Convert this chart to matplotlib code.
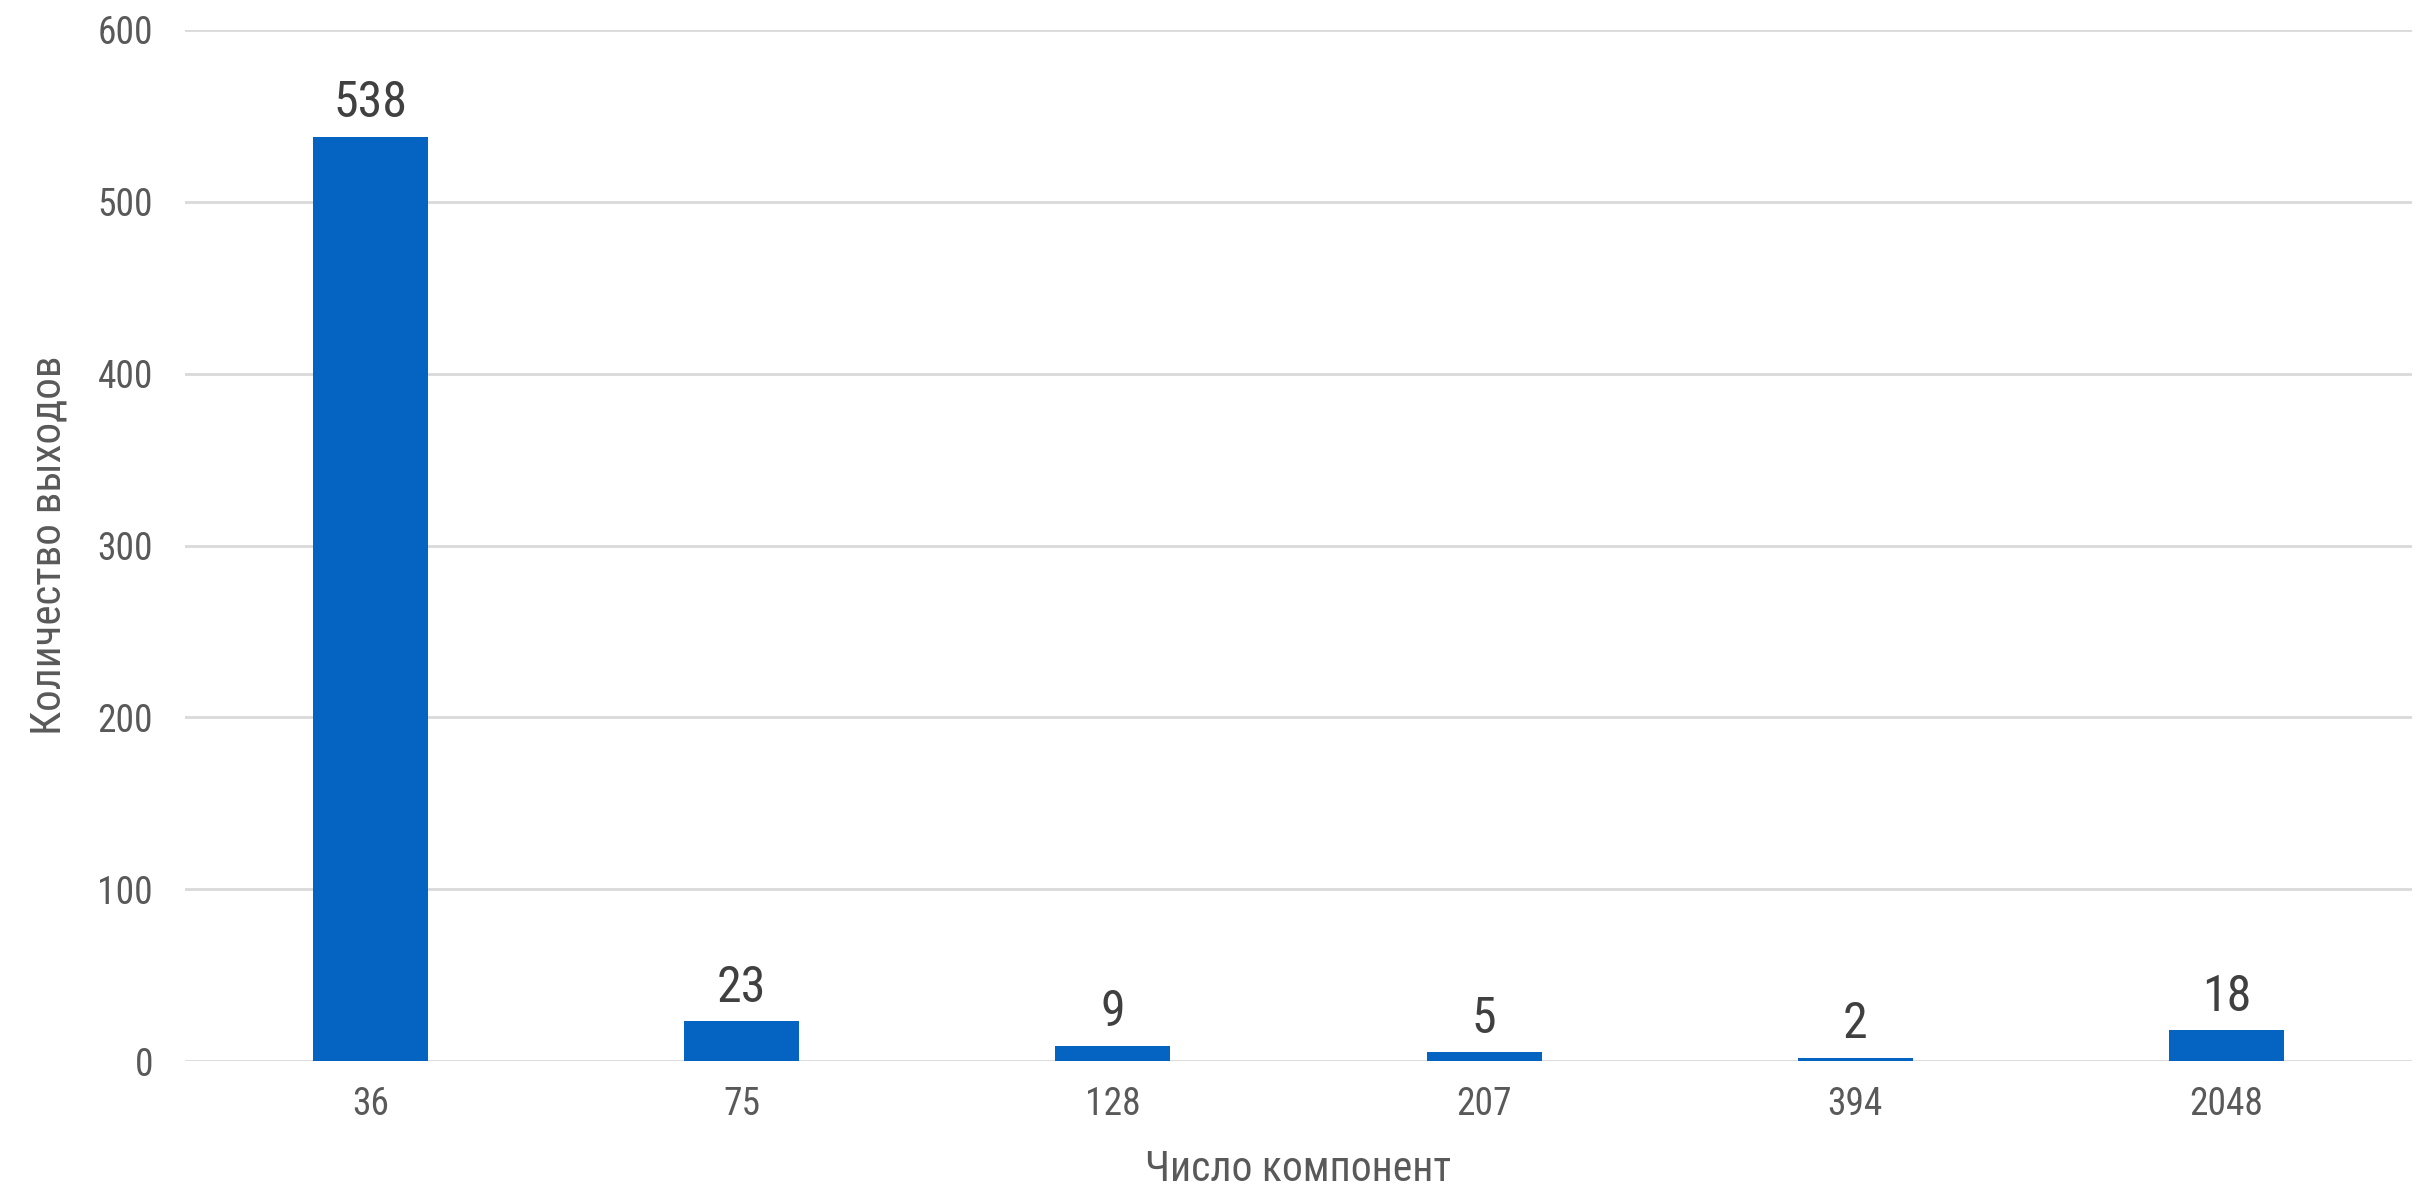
import matplotlib
matplotlib.use("Agg")
import matplotlib.pyplot as plt

components = ["36", "75", "128", "207", "394", "2048"]
outputs = [538, 23, 9, 5, 2, 18]

plt.rcParams['font.family'] = ['Roboto Condensed', 'DejaVu Sans']

fig = plt.figure(figsize=(24.21, 11.85), dpi=100)
# plot area in figure pixels: x 185..2412, y 30..1061
ax = fig.add_axes([185 / 2421, 1 - 1061 / 1185, 2227 / 2421, 1031 / 1185])

x = range(len(components))
bars = ax.bar(x, outputs, width=0.31, color='#0563C1', zorder=3)
for b, v in zip(bars, outputs):
    ax.annotate(str(v), (b.get_x() + b.get_width() / 2, v), xytext=(0, 14),
                textcoords='offset points', ha='center', va='baseline',
                fontsize=36, color='#404040')

ax.set_xlim(-0.5, len(components) - 0.5)
ax.set_ylim(0, 600)
ax.set_yticks(range(0, 601, 100))
ax.set_xticks(list(x))
ax.set_xticklabels(components)
ax.yaxis.grid(True, color='#D9D9D9', linewidth=2, zorder=0)
ax.set_axisbelow(True)
for s in ax.spines.values():
    s.set_visible(False)
ax.tick_params(axis='both', length=0, labelsize=27, labelcolor='#595959')
ax.tick_params(axis='y', pad=23)
ax.tick_params(axis='x', pad=18)

ax.set_xlabel('Число компонент', fontsize=30, color='#595959')
ax.set_ylabel('Количество выходов', fontsize=31, color='#595959')
ax.xaxis.set_label_coords(0.5, -0.085)
ax.yaxis.set_label_coords(-0.052, 0.5)

fig.savefig('out.png', dpi=100)
